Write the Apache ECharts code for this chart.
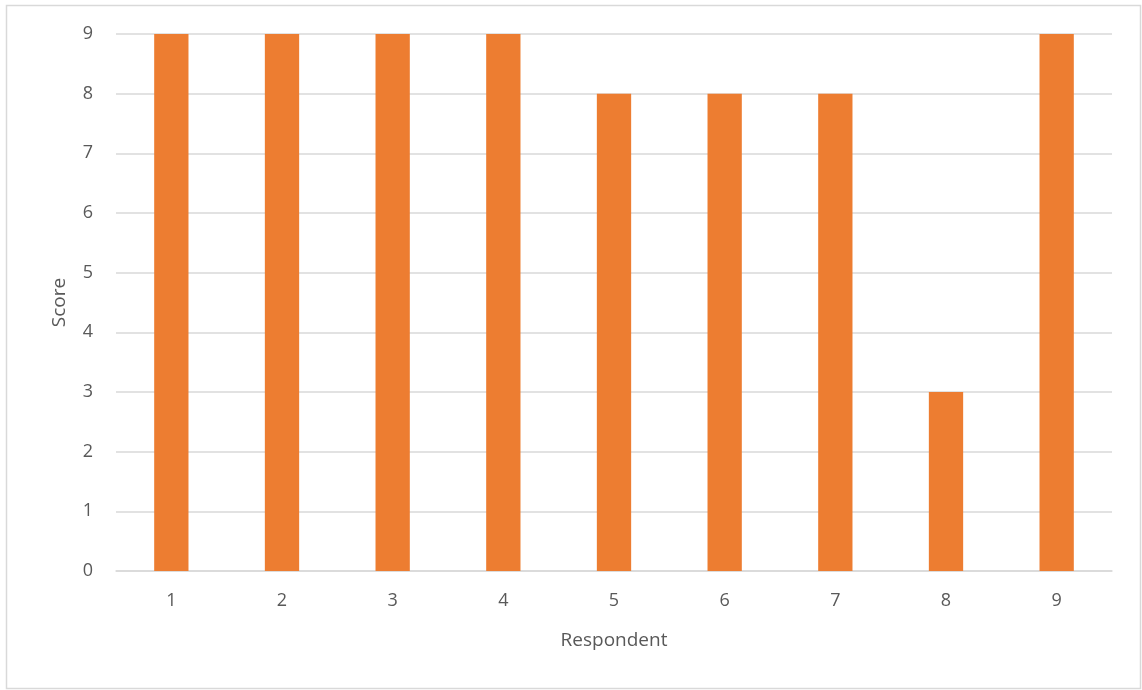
<!DOCTYPE html>
<html><head><meta charset="utf-8">
<script src="https://cdn.jsdelivr.net/npm/echarts@6/dist/echarts.min.js"></script>
<style>html,body{margin:0;padding:0;background:#fff}#c{width:1142px;height:690px}</style>
</head><body><div id="c"></div>
<script>
const categories = ['1','2','3','4','5','6','7','8','9'];
const scores = [9,9,9,9,8,8,8,3,9];
const yTicks = [0,1,2,3,4,5,6,7,8,9];

const chart = echarts.init(document.getElementById('c'));
const font = '"Open Sans", sans-serif';
chart.setOption({
  animation: false,
  backgroundColor: '#fff',
  graphic: [{type:'rect', shape:{x:6.5,y:5.5,width:1134,height:683}, style:{fill:'none', stroke:'#D9D9D9', lineWidth:1.5}, silent:true}],
  grid: {left:116, right:30, top:34, bottom:119},
  xAxis: {
    type:'category', data:categories,
    name:'Respondent', nameLocation:'middle', nameGap:60,
    nameTextStyle:{color:'#595959', fontSize:19, fontFamily:font},
    axisLine:{lineStyle:{color:'#D9D9D9', width:1.5}},
    axisTick:{show:false},
    axisLabel:{color:'#595959', fontSize:18, fontFamily:font, margin:21}
  },
  yAxis: {
    type:'value', min:yTicks[0], max:yTicks[yTicks.length-1], interval:1,
    name:'Score', nameLocation:'middle', nameGap:47,
    nameTextStyle:{color:'#595959', fontSize:19, fontFamily:font},
    axisLine:{show:false}, axisTick:{show:false},
    axisLabel:{color:'#595959', fontSize:18, fontFamily:font, margin:23},
    splitLine:{lineStyle:{color:'#D9D9D9', width:1.5}}
  },
  series: [{type:'bar', data:scores, barWidth:'31%', itemStyle:{color:'#ED7D31'}}]
});
</script></body></html>
